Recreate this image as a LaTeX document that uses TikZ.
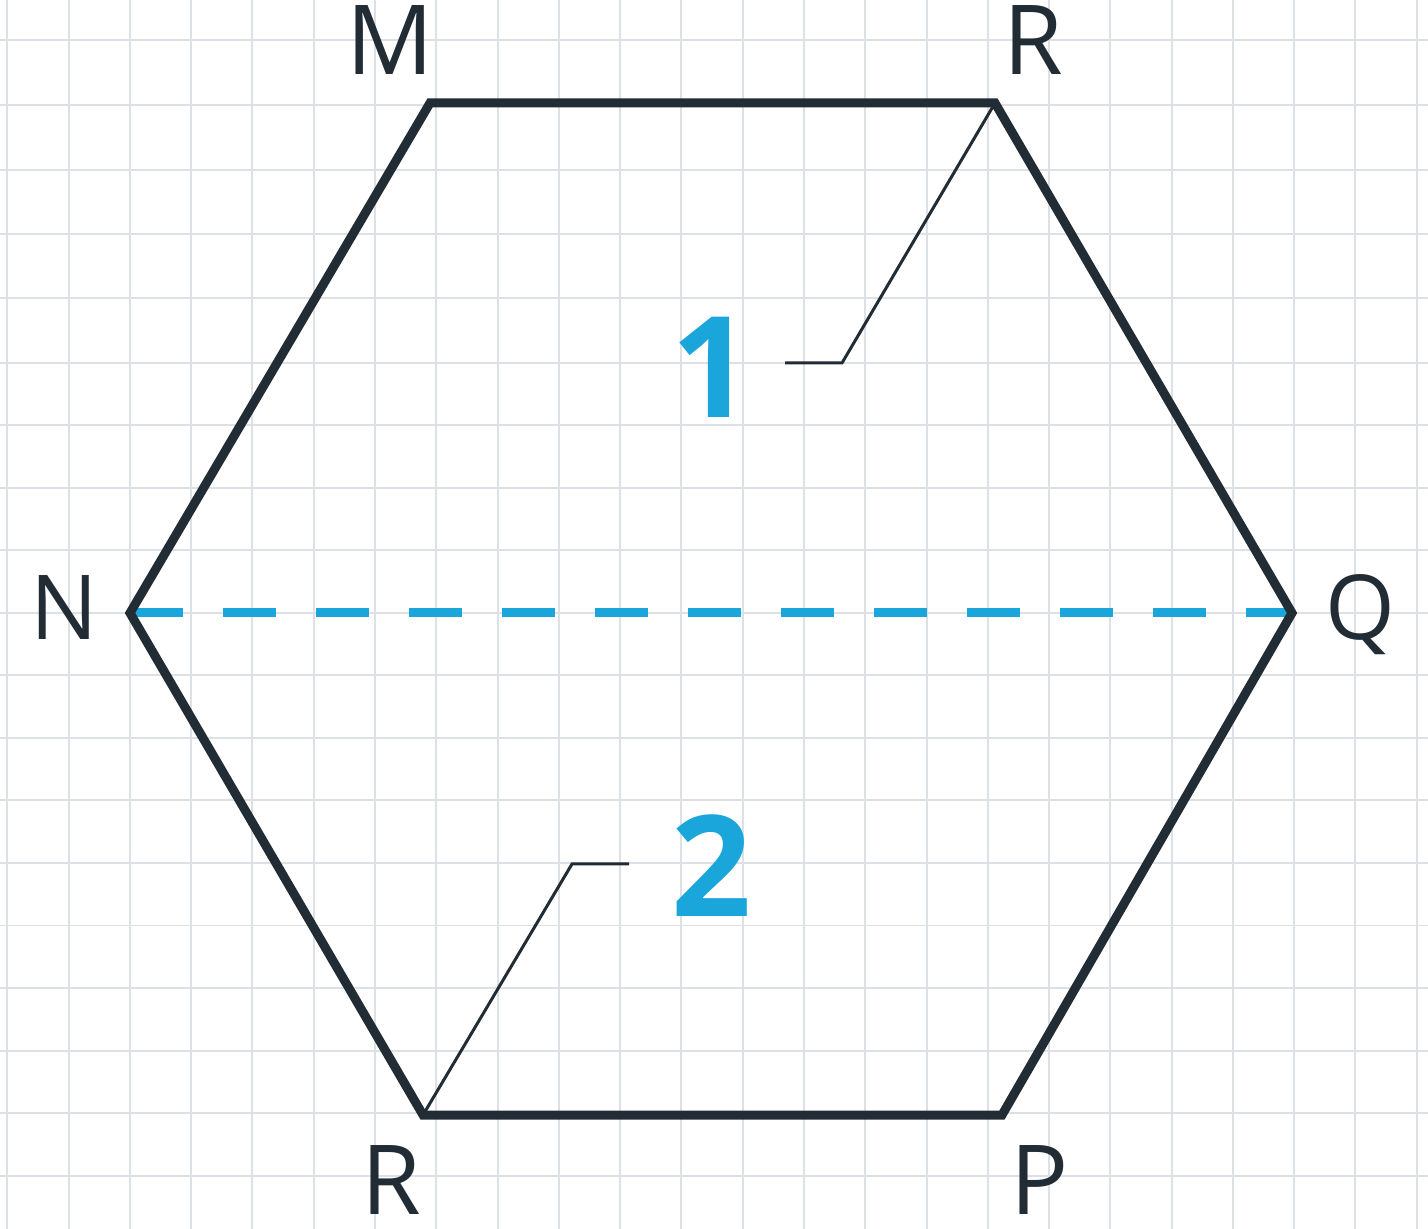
\documentclass[tikz,border=0pt]{standalone}
\usepackage{fontspec}
\setmainfont{Open Sans}
\usepackage{tikz}
\usetikzlibrary{positioning}
\definecolor{gridcolor}{HTML}{DDE1E5}
\definecolor{edgecolor}{HTML}{222C34}
\definecolor{accentblue}{HTML}{1AA6DB}
\tikzset{
    grid line/.style={
        draw=gridcolor, line width=0.04cm
    },
    hex edge/.style={
        draw=edgecolor, line width=0.18cm, line join=miter
    },
    split line/.style={
        draw=accentblue, line width=0.18cm,
        dash pattern=on 1.06cm off 0.8cm
    },
    leader/.style={
        draw=edgecolor, line width=0.06cm
    },
    vertex label/.style={
        text=edgecolor, inner sep=0pt, anchor=base,
        font=\fontsize{55}{64}\selectfont
    },
    side label/.style={
        vertex label, font=\fontsize{51}{60}\selectfont
    },
    part label/.style={
        text=accentblue, inner sep=0pt, anchor=base,
        font=\fontsize{80}{96}\selectfont\bfseries
    },
}

\begin{document}
\begin{tikzpicture}[x=0.02cm, y=-0.02cm]

    % Paper and grid
    \fill[white] (0,0) rectangle (1428,1229);
    \useasboundingbox (0,0) rectangle (1428,1229);
    \foreach \gx in {0,...,23}
        \draw[grid line] ({7.3+61.28*\gx},0) -- ({7.3+61.28*\gx},1229);
    \foreach \gy in {40,105,170,234,298,363,425.5,488,550.5,613,675.5,738,800.5,863,925.5,988,1050.5,1113,1175.5}
        \draw[grid line] (0,\gy) -- (1428,\gy);

    % Vertices
    \coordinate (m)  at (430,103);
    \coordinate (r1) at (995,103);
    \coordinate (q)  at (1292,613);
    \coordinate (p)  at (1002,1115);
    \coordinate (r2) at (423,1115);
    \coordinate (n)  at (130,613);

    % Dividing line and hexagon
    \draw[split line] (n) -- (q);
    \draw[hex edge] (m) -- (r1) -- (q) -- (p) -- (r2) -- (n) -- cycle;

    % Leaders to the parts
    \coordinate (bend1) at (842,363);
    \coordinate (end1)  at (785,363);
    \coordinate (bend2) at (572,864);
    \coordinate (end2)  at (629,864);
    \draw[leader] (r1) -- (bend1) -- (end1);
    \draw[leader] (r2) -- (bend2) -- (end2);

    % Labels
    \node[vertex label] (label m)  at (390,75)   {M};
    \node[vertex label] (label r1) at (1033,75)  {R};
    \node[side label]   (label n)  at (64,640)   {N};
    \node[side label]   (label q)  at (1360,640) {Q};
    \node[vertex label] (label r2) at (391,1214) {R};
    \node[vertex label] (label p)  at (1040,1214) {P};

    \node[part label] (part one) at (712,418) {1};
    \node[part label] (part two) at (712,917) {2};

\end{tikzpicture}
\end{document}
